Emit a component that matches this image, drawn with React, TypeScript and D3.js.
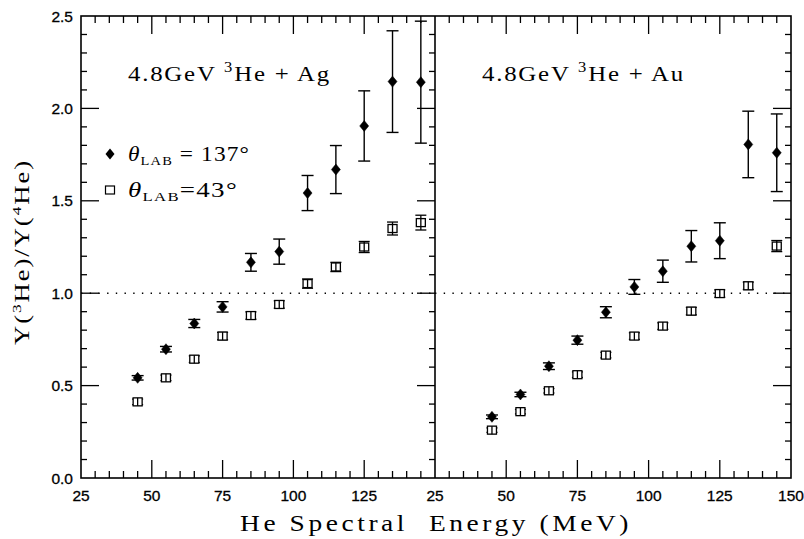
import React from "react";
import * as d3 from "d3";

const energies = [45, 55, 65, 75, 85, 95, 105, 115, 125, 135, 145];

// 4.8 GeV 3He + Ag
const agBack = [0.542, 0.697, 0.836, 0.926, 1.167, 1.225, 1.542, 1.669, 1.905, 2.145, 2.142];
const agBackErr = [0.012, 0.015, 0.022, 0.028, 0.048, 0.068, 0.095, 0.13, 0.19, 0.275, 0.33];
const agFwd = [0.412, 0.542, 0.643, 0.768, 0.879, 0.939, 1.052, 1.142, 1.25, 1.35, 1.382];
const agFwdErr = [0.015, 0.015, 0.018, 0.02, 0.02, 0.02, 0.025, 0.025, 0.03, 0.035, 0.04];

// 4.8 GeV 3He + Au
const auBack = [0.331, 0.452, 0.605, 0.746, 0.897, 1.034, 1.119, 1.254, 1.284, 1.805, 1.76];
const auBackErr = [0.01, 0.012, 0.018, 0.022, 0.03, 0.04, 0.06, 0.085, 0.097, 0.18, 0.21];
const auFwd = [0.259, 0.359, 0.472, 0.559, 0.665, 0.768, 0.822, 0.903, 0.998, 1.04, 1.255];
const auFwdErr = [0.012, 0.012, 0.012, 0.015, 0.015, 0.018, 0.018, 0.02, 0.02, 0.02, 0.03];

const xTicksLeft = [25, 50, 75, 100, 125];
const xTicksRight = [25, 50, 75, 100, 125, 150];
const yTicks = [0, 0.5, 1.0, 1.5, 2.0, 2.5];

const W = 804;
const H = 539;
const top = 16;
const bottom = 478;
const x0 = 81;
const xMid = 435;
const x1 = 791;

const y = d3.scaleLinear().domain([0, 2.5]).range([bottom, top]);
const xL = d3.scaleLinear().domain([25, 150]).range([x0, xMid]);
const xR = d3.scaleLinear().domain([25, 150]).range([xMid, x1]);

const serif = "'Liberation Serif', serif";
const sans = "'Liberation Sans', Arial, sans-serif";

function Panel({ x, labels, back, backErr, fwd, fwdErr, title, leftTicks }: any) {
  const minorX = d3.range(25, 151, 5);
  const minorY = d3.range(0, 2.501, 0.1);
  const [a, b] = x.range();
  const els: any[] = [];
  minorX.forEach((v: number, i: number) => {
    const major = Math.abs(v % 25) < 1e-6;
    const len = major ? 18 : 7;
    const px = x(v);
    if (px <= a + 0.5 || px >= b - 0.5) return;
    els.push(<line key={"xb" + i} x1={px} x2={px} y1={bottom} y2={bottom - len} stroke="#000" strokeWidth={1.3} />);
    els.push(<line key={"xt" + i} x1={px} x2={px} y1={top} y2={top + len} stroke="#000" strokeWidth={1.3} />);
  });
  minorY.forEach((v: number, i: number) => {
    const r = Math.round(v * 10);
    const major = r % 5 === 0;
    const py = y(v);
    if (py <= top + 0.5 || py >= bottom - 0.5) return;
    if (leftTicks) {
      els.push(<line key={"yl" + i} x1={a} x2={a + (major ? 18 : 6)} y1={py} y2={py} stroke="#000" strokeWidth={1.3} />);
    }
    els.push(<line key={"yr" + i} x1={b} x2={b - (major ? 18 : 6)} y1={py} y2={py} stroke="#000" strokeWidth={1.3} />);
  });
  return (
    <g>
      <line x1={a} x2={b} y1={y(1)} y2={y(1)} stroke="#000" strokeWidth={1.4} strokeDasharray="1.4 7.3" />
      {els}
      {labels.map((v: number) => (
        <text key={"xl" + v} x={x(v)} y={501} textAnchor="middle" fontFamily={sans} fontSize={15.5} fill="#000" stroke="#000" strokeWidth={0.3}>
          {v}
        </text>
      ))}
      <text x={a + 47} y={81} fontFamily={serif} fontSize={21} letterSpacing={1.5} fill="#000" textLength={203} lengthAdjust="spacingAndGlyphs">
        4.8GeV <tspan dy={-9} fontSize={14}>3</tspan>
        <tspan dy={9}>He + {title}</tspan>
      </text>
      {energies.map((e, i) => {
        const px = x(e);
        const ylo = y(fwd[i] - fwdErr[i]);
        const yhi = y(fwd[i] + fwdErr[i]);
        return (
          <g key={"f" + i} stroke="#000" strokeWidth={1.3} fill="none">
            <line x1={px} x2={px} y1={ylo} y2={yhi} />
            <line x1={px - 5.5} x2={px + 5.5} y1={ylo} y2={ylo} />
            <line x1={px - 5.5} x2={px + 5.5} y1={yhi} y2={yhi} />
            <rect x={px - 4.5} y={y(fwd[i]) - 4} width={9} height={8} fill="#fff" />
            <line x1={px} x2={px} y1={y(fwd[i]) - 4} y2={y(fwd[i]) + 4} />
          </g>
        );
      })}
      {energies.map((e, i) => {
        const px = x(e);
        const ylo = y(back[i] - backErr[i]);
        const yhi = y(Math.min(2.49, back[i] + backErr[i]));
        const py = y(back[i]);
        return (
          <g key={"b" + i} stroke="#000" strokeWidth={1.4}>
            <line x1={px} x2={px} y1={ylo} y2={yhi} />
            <line x1={px - 6} x2={px + 6} y1={ylo} y2={ylo} />
            <line x1={px - 6} x2={px + 6} y1={yhi} y2={yhi} />
            <path d={`M${px},${py - 5.5}L${px + 4.5},${py}L${px},${py + 5.5}L${px - 4.5},${py}Z`} fill="#000" strokeWidth={0.5} />
          </g>
        );
      })}
    </g>
  );
}

export default function App() {
  return (
    <svg width={W} height={H} style={{ position: "absolute", left: 0, top: 0, background: "#fff" }}>
      <rect x={0} y={0} width={W} height={H} fill="#fff" />
      <Panel x={xL} labels={xTicksLeft} back={agBack} backErr={agBackErr} fwd={agFwd} fwdErr={agFwdErr} title="Ag" leftTicks={true} />
      <Panel x={xR} labels={xTicksRight} back={auBack} backErr={auBackErr} fwd={auFwd} fwdErr={auFwdErr} title="Au" leftTicks={false} />
      <rect x={x0} y={top} width={x1 - x0} height={bottom - top} fill="none" stroke="#000" strokeWidth={1.6} />
      <line x1={xMid} x2={xMid} y1={top} y2={bottom} stroke="#000" strokeWidth={1.6} />
      {yTicks.map((v) => (
        <text key={"yl" + v} x={73} y={y(v) + 5.5} textAnchor="end" fontFamily={sans} fontSize={15.5} fill="#000" stroke="#000" strokeWidth={0.3}>
          {v.toFixed(1)}
        </text>
      ))}
      {/* legend */}
      <path d={`M110,${154 - 5.5}L114.5,154L110,${154 + 5.5}L105.5,154Z`} fill="#000" />
      <text x={128} y={161} fontFamily={serif} fontSize={21} letterSpacing={1} fill="#000" textLength={122} lengthAdjust="spacingAndGlyphs">
        <tspan fontStyle="italic">θ</tspan>
        <tspan dy={4} fontSize={13}>LAB</tspan>
        <tspan dy={-4}>{"\u00a0=\u00a0137°"}</tspan>
      </text>
      <rect x={105.5} y={186} width={9} height={8} fill="#fff" stroke="#000" strokeWidth={1.2} />
      <text x={128} y={197} fontFamily={serif} fontSize={21} letterSpacing={1} fill="#000" textLength={110} lengthAdjust="spacingAndGlyphs">
        <tspan fontStyle="italic">θ</tspan>
        <tspan dy={4} fontSize={13}>LAB</tspan>
        <tspan dy={-4}>=43°</tspan>
      </text>
      {/* axis labels */}
      <text transform={`translate(29,${252}) rotate(-90)`} textAnchor="middle" fontFamily={serif} fontSize={20} letterSpacing={1.5} fill="#000" textLength={186} lengthAdjust="spacingAndGlyphs">
        Y(<tspan dy={-8} fontSize={13}>3</tspan>
        <tspan dy={8}>He)/Y(</tspan>
        <tspan dy={-8} fontSize={13}>4</tspan>
        <tspan dy={8}>He)</tspan>
      </text>
      <text x={240} y={531} fontFamily={serif} fontSize={23} letterSpacing={3} fill="#000" textLength={392} lengthAdjust="spacingAndGlyphs">
        {"He Spectral\u00a0\u00a0Energy (MeV)"}
      </text>
    </svg>
  );
}
